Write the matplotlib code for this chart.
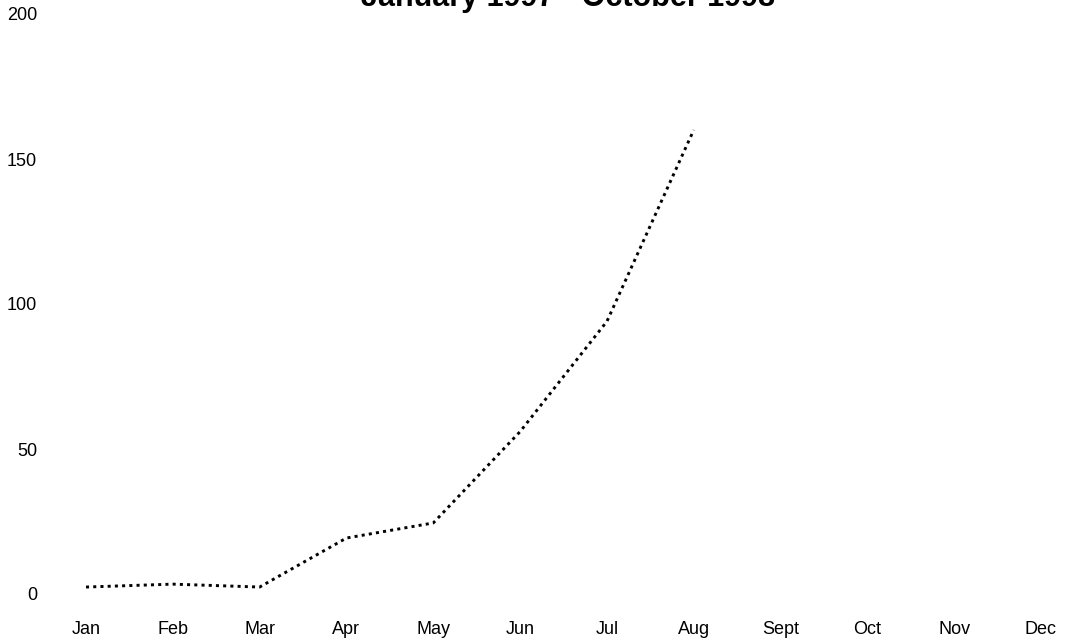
import matplotlib
matplotlib.use("Agg")
import matplotlib.pyplot as plt

plt.rcParams['font.family'] = ['Liberation Sans', 'DejaVu Sans']
plt.rcParams['lines.scale_dashes'] = False

months = ["Jan", "Feb", "Mar", "Apr", "May", "Jun", "Jul", "Aug", "Sept", "Oct", "Nov", "Dec"]
values = [2.4, 3.4, 2.4, 19.3, 24.5, 56, 94, 160]
yticks = [0, 50, 100, 150, 200]
title = "January 1997 - October 1998"

W, H = 1065, 642
fig = plt.figure(figsize=(W / 100, H / 100), dpi=100)
ax = fig.add_axes([86 / W, (H - 594) / H, (1041 - 86) / W, (594 - 14) / H])

ax.plot(range(len(values)), values, color='black', linewidth=2.1,
        linestyle=(0, (2.2, 3.0)))

ax.set_xlim(0, len(months) - 1)
ax.set_ylim(0, 200)
ax.set_xticks(range(len(months)))
ax.set_xticklabels(months)
ax.set_yticks(yticks)
ax.set_yticklabels([str(v) for v in yticks])
ax.tick_params(axis='both', length=0, labelsize=13)
ax.tick_params(axis='y', pad=49 * 0.72)
ax.tick_params(axis='x', pad=27 * 0.72)
for s in ax.spines.values():
    s.set_visible(False)
ax.patch.set_visible(False)

fig.text(568 / W, 1 - 6 / H, title, ha='center', va='baseline',
         fontsize=22, fontweight='bold')

fig.savefig("out.png", dpi=100)
